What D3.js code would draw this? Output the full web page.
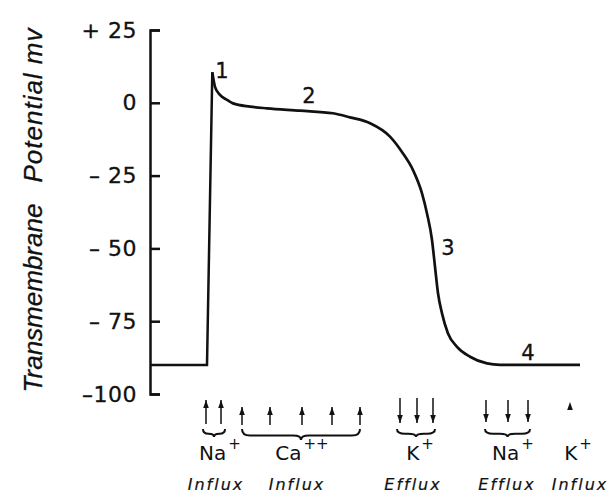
<!DOCTYPE html>
<html lang="en">
    <head>
        <meta charset="utf-8">
        <title>Cardiac Action Potential</title>
        <script src="https://cdn.jsdelivr.net/npm/d3@7"></script>
        <style type="text/css">
                body {
                    margin: 0;
                    background: #fff;
                }
                .axis path,
                .axis line {
                    fill: none;
                    stroke: #111;
                    stroke-width: 2.5px;
                }
                .axis text {
                    font-family: "DejaVu Sans", sans-serif;
                    font-size: 22px;
                    letter-spacing: 0.5px;
                    fill: #111;
                    stroke: #111;
                    stroke-width: 0.3px;
                }
                .title {
                    font-family: "Liberation Sans", Arial, sans-serif;
                    font-style: italic;
                    font-size: 26px;
                    fill: #111;
                    stroke: #111;
                    stroke-width: 0.3px;
                }
                .phase {
                    font-family: "DejaVu Sans", sans-serif;
                    font-size: 21px;
                    fill: #111;
                    stroke: #111;
                    stroke-width: 0.3px;
                }
                .ion {
                    font-family: "DejaVu Sans", sans-serif;
                    font-size: 20px;
                    fill: #111;
                }
                .flux {
                    font-family: "DejaVu Sans", sans-serif;
                    font-style: italic;
                    font-size: 16px;
                    letter-spacing: 2px;
                    fill: #111;
                    stroke: #111;
                    stroke-width: 0.2px;
                }
        </style>
    </head>
    <body>
        <script type="text/javascript">
        // membrane potential trace (time in ms from the axis, potential in mV)
        var timeMs      = [0, 57, 62.3, 65, 70, 77, 83, 100, 117, 150, 183, 200, 220, 240, 253, 263, 272, 277, 282, 285, 288, 292, 298, 307, 320, 337, 350, 430];
        var potentialMv = [-90, -90, 10.5, 5.5, 2.7, 1.0, -0.2, -1.3, -1.9, -2.7, -3.6, -5.0, -7.0, -11.6, -17.4, -23.1, -31.1, -38.0, -47.1, -56.3, -65.4, -72.3, -79.2, -83.8, -87.2, -89.5, -90, -90];
        var peakIndex = 2; // sharp corners up to here, smooth afterwards

        var tickValues = [25, 0, -25, -50, -75, -100];
        var tickLabels = ["+ 25", "0", "\u2013 25", "\u2013 50", "\u2013 75", "\u2013100"];

        var phaseNames = ["1", "2", "3", "4"];
        var phaseTimes = [72, 159, 298, 378];
        var phaseMv    = [8.5, 0, -52.3, -88.3];

        // ion currents under the trace
        var ionNames   = ["Na", "Ca", "K", "Na", "K"];
        var ionCharges = ["+", "++", "+", "+", "+"];
        var fluxWords  = ["Influx", "Influx", "Efflux", "Efflux", "Influx"];
        var arrowTimes = [[56, 71], [92, 120, 152, 182, 210], [250, 267, 283], [336, 358, 378], [420]];
        var braceSpans = [[53, 75], [92, 210], [247, 285], [335, 380], null];
        var ionTimes   = [70, 152, 270, 363, 428];
        var fluxTimes  = [66, 147, 263, 357, 430];

        // arrow extents in px (top, bottom) per group - drawing style only
        var arrowPx = [[400, 424], [407, 425], [398, 423], [400, 422], [402, 410]];

        var w = 608;
        var h = 496;

        var x = d3.scaleLinear().domain([0, 430]).range([150, 580]);
        var y = d3.scaleLinear().domain([-100, 25]).range([394, 30]);

        var svg = d3.select("body")
                .append("svg")
                .attr("width", w)
                .attr("height", h);

        // y axis with the ticks pointing into the plot
        svg.append("g")
            .attr("class", "axis")
            .attr("transform", "translate(" + x(0) + ",0)")
            .call(d3.axisLeft(y)
                .tickValues(tickValues)
                .tickSizeInner(-10)
                .tickSizeOuter(-10)
                .tickPadding(13)
                .tickFormat(function(d, i) { return tickLabels[i]; }))
            .selectAll("text")
            .attr("text-anchor", "end");

        // axis title, two pieces rotated
        svg.append("text")
            .attr("class", "title")
            .attr("transform", "translate(42," + 298 + ") rotate(-90)")
            .attr("text-anchor", "middle")
            .text("Transmembrane");
        svg.append("text")
            .attr("class", "title")
            .attr("transform", "translate(42," + 105 + ") rotate(-90)")
            .attr("text-anchor", "middle")
            .style("letter-spacing", "1px")
            .text("Potential  mv");

        var points = timeMs.map(function(t, i) { return [t, potentialMv[i]]; });

        var straight = d3.line()
            .x(function(d) { return x(d[0]); })
            .y(function(d) { return y(d[1]); });
        var smooth = d3.line()
            .curve(d3.curveMonotoneX)
            .x(function(d) { return x(d[0]); })
            .y(function(d) { return y(d[1]); });

        svg.append("path")
            .attr("d", straight(points.slice(0, peakIndex + 1)))
            .attr("fill", "none")
            .attr("stroke", "#111")
            .attr("stroke-width", 2.5)
            .attr("stroke-linejoin", "miter");
        svg.append("path")
            .attr("d", smooth(points.slice(peakIndex)))
            .attr("fill", "none")
            .attr("stroke", "#111")
            .attr("stroke-width", 2.7);

        // phase numbers
        svg.selectAll(".phase")
            .data(phaseNames)
            .enter()
            .append("text")
            .attr("class", "phase")
            .attr("x", function(d, i) { return x(phaseTimes[i]); })
            .attr("y", function(d, i) { return y(phaseMv[i]); })
            .attr("text-anchor", "middle")
            .text(function(d) { return d; });

        // arrows
        var arrowGroups = svg.selectAll(".arrows")
            .data(arrowTimes)
            .enter()
            .append("g")
            .attr("class", "arrows");

        arrowGroups.each(function(times, gi) {
            var g = d3.select(this);
            var up = fluxWords[gi] === "Influx";
            var top = arrowPx[gi][0], bot = arrowPx[gi][1];
            var headOnly = times.length === 1;
            times.forEach(function(t) {
                var cx = x(t);
                if (!headOnly) {
                    g.append("line")
                        .attr("x1", cx).attr("x2", cx)
                        .attr("y1", top).attr("y2", bot)
                        .attr("stroke", "#111")
                        .attr("stroke-width", 1.5);
                }
                var tip = up ? top : bot;
                var base = up ? tip + 8 : tip - 8;
                g.append("path")
                    .attr("d", "M" + cx + "," + tip + "L" + (cx - 2.8) + "," + base + "L" + (cx + 2.8) + "," + base + "Z")
                    .attr("fill", "#111");
            });
        });

        // braces
        function brace(x1, x2, top, depth) {
            var mid = (x1 + x2) / 2;
            var q = Math.min(8, (x2 - x1) / 4);
            var yMid = top + depth * 0.6;
            return "M" + x1 + "," + top +
                "Q" + x1 + "," + yMid + " " + (x1 + q) + "," + yMid +
                "L" + (mid - q) + "," + yMid +
                "Q" + mid + "," + yMid + " " + mid + "," + (top + depth) +
                "Q" + mid + "," + yMid + " " + (mid + q) + "," + yMid +
                "L" + (x2 - q) + "," + yMid +
                "Q" + x2 + "," + yMid + " " + x2 + "," + top;
        }

        svg.selectAll(".brace")
            .data(braceSpans.filter(function(d) { return d; }))
            .enter()
            .append("path")
            .attr("class", "brace")
            .attr("d", function(d) {
                var wide = d[1] - d[0] > 60;
                return brace(x(d[0]), x(d[1]), 429, wide ? 11 : 8);
            })
            .attr("fill", "none")
            .attr("stroke", "#111")
            .attr("stroke-width", 2);

        // ion labels with superscript charge
        var ions = svg.selectAll(".ion")
            .data(ionNames)
            .enter()
            .append("text")
            .attr("class", "ion")
            .attr("x", function(d, i) { return x(ionTimes[i]); })
            .attr("y", 460)
            .attr("text-anchor", "middle");
        ions.append("tspan").text(function(d) { return d; });
        ions.append("tspan")
            .attr("dy", -11)
            .attr("dx", 2)
            .style("font-size", "15px")
            .text(function(d, i) { return ionCharges[i]; });

        svg.selectAll(".flux")
            .data(fluxWords)
            .enter()
            .append("text")
            .attr("class", "flux")
            .attr("x", function(d, i) { return x(fluxTimes[i]); })
            .attr("y", 490)
            .attr("text-anchor", "middle")
            .text(function(d) { return d; });
        </script>
    </body>
</html>
